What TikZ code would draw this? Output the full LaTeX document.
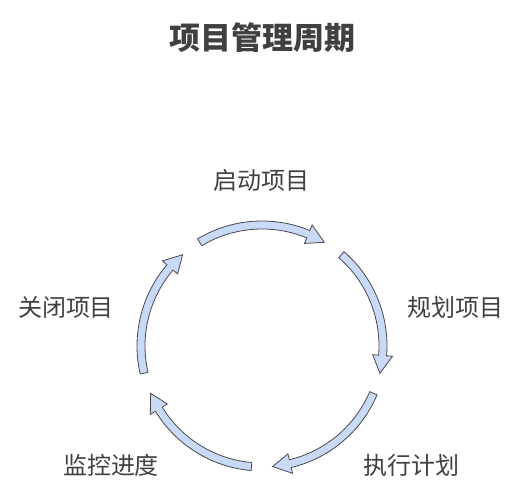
\documentclass[tikz,border=0pt]{standalone}
\usepackage{fontspec}
\newfontfamily\cjk{Noto Sans CJK SC}
\definecolor{arrowfill}{HTML}{C9DAF8}
\definecolor{arrowline}{HTML}{4A4A4A}
\definecolor{labelgray}{HTML}{404040}
\tikzset{
  cyclearrow/.style={fill=arrowfill, draw=arrowline, line width=0.8pt, line join=miter},
  steplabel/.style={text=labelgray, font=\cjk\fontsize{24}{28}\selectfont},
  titlelabel/.style={text=labelgray, font=\cjk\bfseries\fontsize{31}{36}\selectfont}
}
\begin{document}
\begin{tikzpicture}[x=1pt, y=1pt]
	\useasboundingbox (0,0) rectangle (525,495);
	
	% Title
	\node[titlelabel] (title) at (262,457) {项目管理周期};
	
	% Cycle arrows
	\begin{scope}[shift={(262,149)}]
		\def\r{121}
		\foreach \c in {90,18,-54,-126,-198} {
			\pgfmathsetmacro\s{\c+31}
			\pgfmathsetmacro\e{\c-31}
			\pgfmathsetmacro\h{\c-31+8.5}
			\draw[cyclearrow] (\s:\r+4) arc[start angle=\s, end angle=\h, radius=\r+4]
				-- (\h:\r+10) -- (\e:\r) -- (\h:\r-10) -- (\h:\r-4)
				arc[start angle=\h, end angle=\s, radius=\r-4] -- cycle;
		}
	\end{scope}
	
	% Steps
	\node[steplabel] (start) at (261,315) {启动项目};
	\node[steplabel] (plan) at (455,188) {规划项目};
	\node[steplabel] (execute) at (411,30) {执行计划};
	\node[steplabel] (monitor) at (111,30) {监控进度};
	\node[steplabel] (close) at (66,188) {关闭项目};
\end{tikzpicture}
\end{document}
